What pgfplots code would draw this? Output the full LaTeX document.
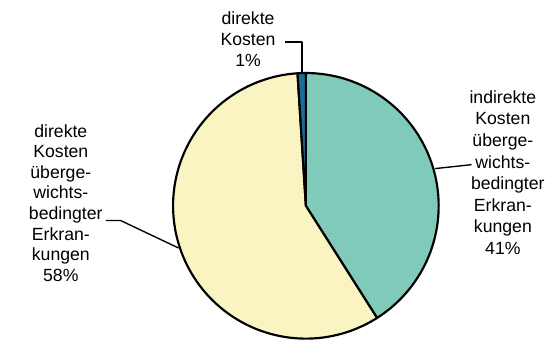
\documentclass[border=0pt]{standalone}
\usepackage{pgfplots}
\usepackage{pgfplotstable}
\pgfplotsset{compat=1.18}
\usepackage{fontspec}
\setmainfont{Liberation Sans}
\definecolor{cTeal}{HTML}{7FCAB8}
\definecolor{cYellow}{HTML}{F9F4C2}
\definecolor{cBlue}{HTML}{186E95}
\pgfplotstableread{
name value
indirekte 41
direkteUeb 58
direkte 1
}\slices
\begin{document}
\pgfplotstablegetelem{0}{value}\of\slices\let\va\pgfplotsretval
\pgfplotstablegetelem{1}{value}\of\slices\let\vb\pgfplotsretval
\pgfplotstablegetelem{2}{value}\of\slices\let\vc\pgfplotsretval
\pgfmathsetmacro{\tot}{\va+\vb+\vc}
\pgfmathsetmacro{\aA}{\va/\tot*360}
\pgfmathsetmacro{\aB}{(\va+\vb)/\tot*360}
\def\cx{301}\def\cy{136}\def\rr{135.5}
\begin{tikzpicture}
\begin{axis}[
  width=546bp, height=346bp, scale only axis,
  xmin=0, xmax=546, ymin=0, ymax=346,
  hide axis, clip=false,
  every axis plot/.append style={line join=round},
]
\addplot[fill=cTeal, draw=black, line width=2.2bp, domain=0:\aA, samples=80, smooth]
  ({\cx+\rr*sin(x)},{\cy+\rr*cos(x)}) -- (axis cs:\cx,\cy) -- cycle;
\addplot[fill=cYellow, draw=black, line width=2.2bp, domain=\aA:\aB, samples=120, smooth]
  ({\cx+\rr*sin(x)},{\cy+\rr*cos(x)}) -- (axis cs:\cx,\cy) -- cycle;
\addplot[fill=cBlue, draw=black, line width=2.2bp, domain=\aB:360, samples=5]
  ({\cx+\rr*sin(x)},{\cy+\rr*cos(x)}) -- (axis cs:\cx,\cy) -- cycle;
% leader lines
\addplot[black, line width=1.4bp] coordinates {(280,303) (297,303) (297,271)};
\addplot[black, line width=1.4bp] coordinates {(433,174) (470,178)};
\addplot[black, line width=1.4bp] coordinates {(97,121) (112,121) (171,93)};
\node[align=center, font=\fontsize{18bp}{21.8bp}\selectfont, inner sep=0pt] at (axis cs:242,306) {direkte\\Kosten\\1\%};
\node[align=center, font=\fontsize{18bp}{22.1bp}\selectfont, inner sep=0pt] at (axis cs:502,170) {indirekte\\Kosten\\überge-\\wichts-\\\hspace*{10bp}bedingter\\Erkran-\\kungen\\41\%};
\node[align=center, font=\fontsize{18bp}{21bp}\selectfont, inner sep=0pt] at (axis cs:51,139) {direkte\\Kosten\\überge-\\wichts-\\\hspace*{10bp}bedingter\\Erkran-\\kungen\\58\%};
\end{axis}
\pgfresetboundingbox
\path[use as bounding box] (current axis.south west) rectangle (current axis.north east);
\end{tikzpicture}
\end{document}
